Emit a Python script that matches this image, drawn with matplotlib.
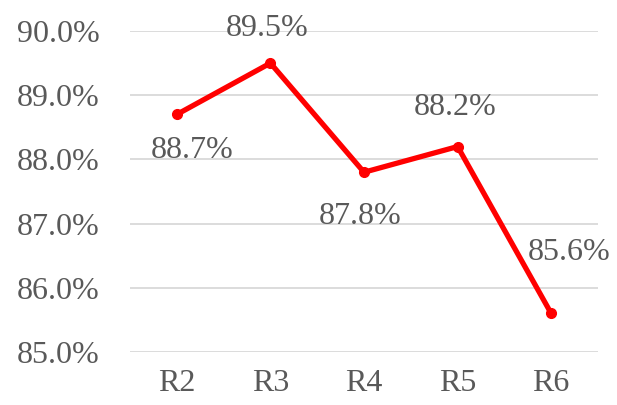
import matplotlib
matplotlib.use("Agg")
import matplotlib.pyplot as plt
import matplotlib.ticker as ticker

categories = ["R2", "R3", "R4", "R5", "R6"]
values = [88.7, 89.5, 87.8, 88.2, 85.6]
# label offsets (points) relative to each point
label_offsets = [(11, -26), (-2, 25), (-3, -32), (-2, 28), (13, 44)]

_GRAY = "#595959"
_RED = "#ff0000"

plt.rcParams["font.family"] = ["Liberation Serif", "DejaVu Serif"]

fig = plt.figure(figsize=(6.17, 4.05), dpi=100)
ax = fig.add_axes([130 / 617, 1 - 352 / 405, 468 / 617, 321 / 405])

x = list(range(len(categories)))
ax.plot(x, values, color=_RED, linewidth=3.8, marker="o", markersize=7,
        solid_capstyle="round", zorder=3)

for xi, v, (dx, dy) in zip(x, values, label_offsets):
    ax.annotate(f"{v:.1f}%", (xi, v), xytext=(dx, dy), textcoords="offset points",
                ha="center", va="center", fontsize=23, color=_GRAY)

ax.set_xlim(-0.5, len(categories) - 0.5)
ax.set_ylim(85.0, 90.0)
ax.yaxis.set_major_locator(ticker.MultipleLocator(1.0))
ax.yaxis.set_major_formatter(ticker.FuncFormatter(lambda v, _: f"{v:.1f}%"))
ax.set_xticks(x)
ax.set_xticklabels(categories)

ax.grid(axis="y", color="#d9d9d9", linewidth=1.3)
ax.set_axisbelow(True)
for s in ax.spines.values():
    s.set_visible(False)
ax.tick_params(axis="both", length=0, labelsize=23, colors=_GRAY)
ax.tick_params(axis="y", pad=22)
ax.tick_params(axis="x", pad=12)

fig.savefig("out.png", dpi=100)
